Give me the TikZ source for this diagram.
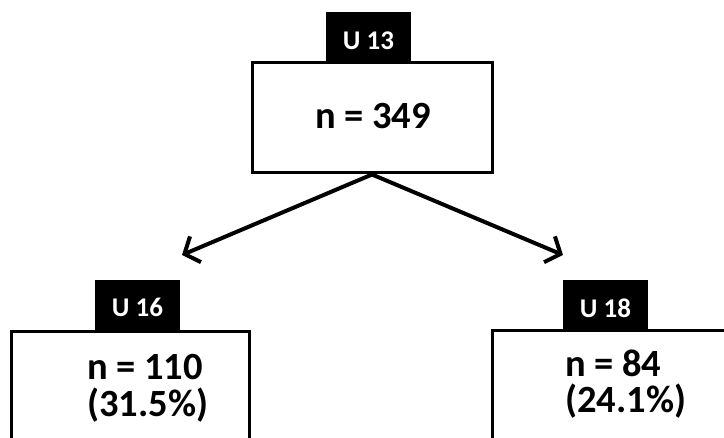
\documentclass[tikz,border=0pt]{standalone}
\usepackage{fontspec}
\setmainfont{Carlito}
\usetikzlibrary{arrows.meta}
\begin{document}
\begin{tikzpicture}[x=1pt,y=-1pt,
  box/.style={draw=black,line width=3pt,fill=white,inner sep=0pt},
  tag/.style={fill=black,text=white,inner sep=0pt,font=\bfseries\fontsize{27}{28}\selectfont},
  big/.style={inner sep=0pt,font=\bfseries\fontsize{38.5}{37}\selectfont},
  arr/.style={line width=4pt,-{Straight Barb[length=12pt,width=28pt,line width=4pt]}}]
\path[use as bounding box] (0,0) rectangle (724,438);
\clip (0,0) rectangle (724,438);
% top
\node[box,minimum width=240pt,minimum height=110pt] (top) at (372,118) {};
\node[tag,minimum width=85pt,minimum height=51pt] (l13) at (368.5,37.5) {};
\node[tag,anchor=base] (t13) at (368.5,50) {U 13};
\node[big,anchor=base] (n13) at (373,129) {n = 349};
% left
\node[box,minimum width=238pt,minimum height=130pt] (b16) at (130,397) {};
\node[tag,minimum width=85pt,minimum height=52pt] (l16) at (137.5,306) {};
\node[tag,anchor=base] (t16) at (137.5,317) {U 16};
\node[big,anchor=base west] (n16) at (87,380) {n = 110};
\node[big,anchor=base west] (p16) at (87,417) {(31.5\%)};
% right
\node[box,minimum width=248pt,minimum height=130pt] (b18) at (616,396) {};
\node[tag,minimum width=85pt,minimum height=51pt] (l18) at (605.5,306) {};
\node[tag,anchor=base] (t18) at (605.5,318) {U 18};
\node[big,anchor=base west] (n18) at (565,377) {n = 84};
\node[big,anchor=base west] (p18) at (565,413) {(24.1\%)};
% arrows
\coordinate (a16) at (182,255);
\coordinate (a18) at (563,255);
\draw[arr] (top.south) -- (a16);
\draw[arr] (top.south) -- (a18);
\end{tikzpicture}
\end{document}
